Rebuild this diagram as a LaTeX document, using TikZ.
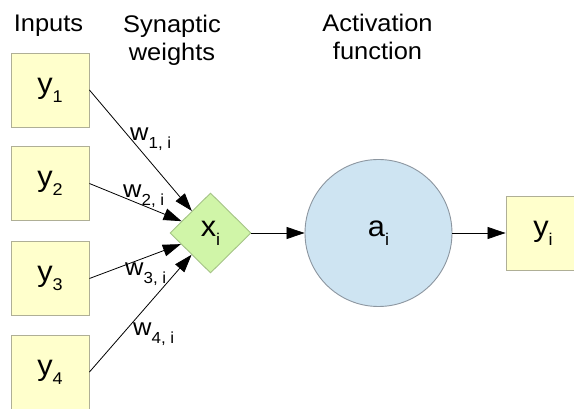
\documentclass[tikz,border=0pt]{standalone}
\usepackage{fontspec}
\setmainfont{Liberation Sans}[FakeStretch=1.06]
\usetikzlibrary{arrows.meta,shapes.geometric}
\definecolor{boxfill}{RGB}{255,255,204}
\definecolor{boxdraw}{RGB}{175,175,150}
\definecolor{dfill}{RGB}{208,245,168}
\definecolor{ddraw}{RGB}{165,195,135}
\definecolor{cfill}{RGB}{206,228,242}
\definecolor{cdraw}{RGB}{140,150,160}
\newcommand\sbs[1]{\raisebox{-0.6ex}{\fontsize{17}{17}\selectfont #1}}
\newcommand\wsbs[1]{\raisebox{-0.6ex}{\fontsize{16}{16}\selectfont #1}}
\begin{document}
\begin{tikzpicture}[x=1pt,y=-1pt,
  inbox/.style={draw=boxdraw, fill=boxfill, minimum width=78pt, minimum height=74pt, inner sep=0pt, line width=0.9pt, font=\fontsize{29}{29}\selectfont},
  sumnode/.style={diamond, draw=ddraw, fill=dfill, minimum width=81pt, minimum height=80pt, inner sep=0pt, line width=0.9pt, font=\fontsize{29}{29}\selectfont},
  actnode/.style={circle, draw=cdraw, fill=cfill, minimum size=147pt, inner sep=0pt, line width=0.9pt, font=\fontsize{29}{29}\selectfont},
  heading/.style={align=center, font=\fontsize{24}{28}\selectfont, inner sep=0pt},
  wlab/.style={font=\fontsize{24}{24}\selectfont, inner sep=0pt},
  arr/.style={-{Triangle[length=18pt,width=12pt]}, line width=0.8pt, black}
]
\useasboundingbox (0,0) rectangle (574,409);
\clip (0,0) rectangle (574,409);
\fill[white] (0,0) rectangle (574,409);

\node[heading, anchor=base] (inp) at (48.5,32) {Inputs};
\node[heading, anchor=base] (syn) at (172,61) {Synaptic\\weights};
\node[heading, anchor=base] (act) at (377.5,60) {Activation\\function};

\node[inbox] (y1) at (50,90) {y\sbs{1}};
\node[inbox] (y2) at (50,183.5) {y\sbs{2}};
\node[inbox] (y3) at (50,278.5) {y\sbs{3}};
\node[inbox] (y4) at (50,372) {y\sbs{4}};

\node[sumnode] (x) at (210.5,233) {x\sbs{i}};
\node[actnode] (a) at (378.5,233) {a\sbs{i}};
\node[inbox, minimum width=74pt] (yo) at (543,233) {y\sbs{i}};

\draw[arr] (y1.east) -- (x);
\draw[arr] (y2.east) -- (x);
\draw[arr] (y3.east) -- (x);
\draw[arr] (y4.east) -- (x);
\draw[arr] (x) -- (a);
\draw[arr] (a) -- (yo);

\node[wlab, anchor=base west] (w1) at (130,141) {w\wsbs{1, i}};
\node[wlab, anchor=base west] (w2) at (123,198) {w\wsbs{2, i}};
\node[wlab, anchor=base west] (w3) at (125,276) {w\wsbs{3, i}};
\node[wlab, anchor=base west] (w4) at (133,336) {w\wsbs{4, i}};
\end{tikzpicture}
\end{document}
